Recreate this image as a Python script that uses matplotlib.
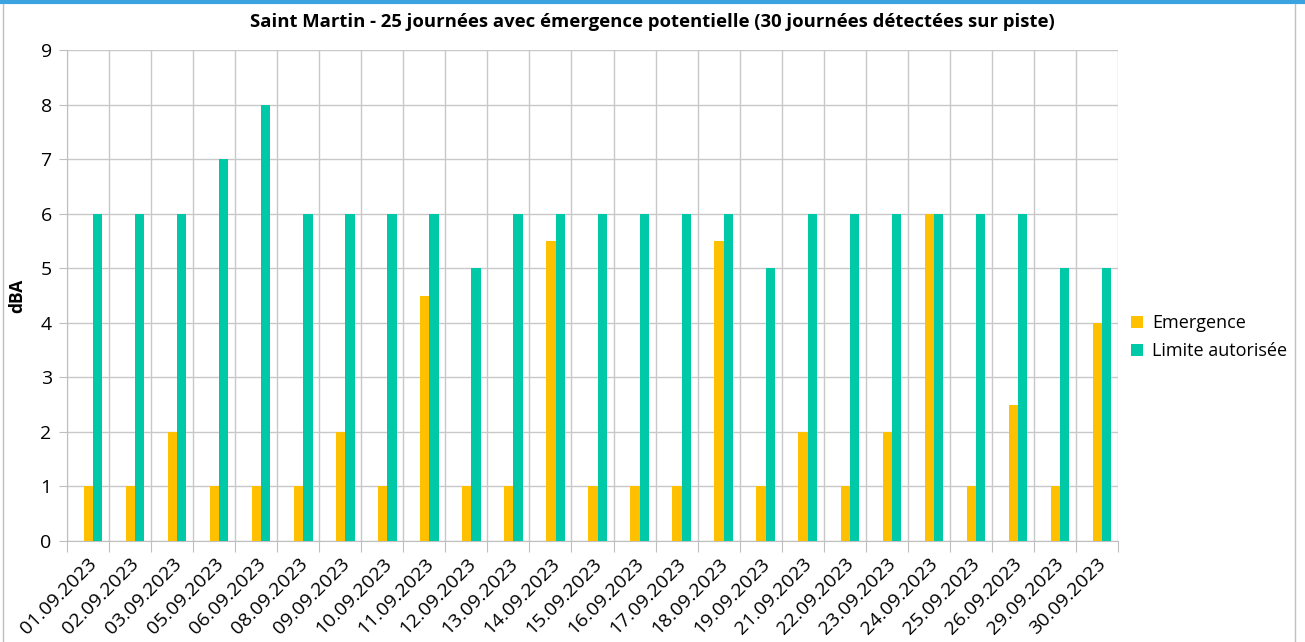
import matplotlib
matplotlib.use("Agg")
import matplotlib.pyplot as plt
import numpy as np
from matplotlib.lines import Line2D

# Données
dates = ["01.09.2023", "02.09.2023", "03.09.2023", "05.09.2023", "06.09.2023",
         "08.09.2023", "09.09.2023", "10.09.2023", "11.09.2023", "12.09.2023",
         "13.09.2023", "14.09.2023", "15.09.2023", "16.09.2023", "17.09.2023",
         "18.09.2023", "19.09.2023", "21.09.2023", "22.09.2023", "23.09.2023",
         "24.09.2023", "25.09.2023", "26.09.2023", "29.09.2023", "30.09.2023"]
emergence = [1, 1, 2, 1, 1, 1, 2, 1, 4.5, 1, 1, 5.5, 1, 1, 1, 5.5, 1, 2, 1, 2,
             6, 1, 2.5, 1, 4]
limite = [6, 6, 6, 7, 8, 6, 6, 6, 6, 5, 6, 6, 6, 6, 6, 6, 5, 6, 6, 6, 6, 6, 6, 5, 5]

plt.rcParams['font.family'] = ['Open Sans', 'DejaVu Sans']

fig = plt.figure(figsize=(13.05, 6.42), dpi=100)
ax = fig.add_axes([67 / 1305, 1 - 541 / 642, (1118 - 67) / 1305, (541 - 50) / 642])

x = np.arange(len(dates))
w = 0.22
decal = 0.12  # les barres sont légèrement décalées à droite dans l'original
ax.bar(x + decal - w / 2, emergence, width=w, color='#FFC000', label='Emergence', zorder=3)
ax.bar(x + decal + w / 2, limite, width=w, color='#00C9A7', label='Limite autorisée', zorder=3)

ax.set_xlim(-0.5, len(dates) - 0.5)
ax.set_ylim(0, 9)
ax.set_yticks(range(0, 10))
ax.tick_params(axis='y', length=6, color='#BFBFBF', labelsize=14, pad=5)

# grille verticale aux limites de catégories
ax.set_xticks(np.arange(len(dates) + 1) - 0.5, minor=False)
ax.set_xticklabels([])
ax.tick_params(axis='x', which='major', length=8, color='#BFBFBF')
ax.set_xticks(x, minor=True)
ax.set_xticklabels(dates, minor=True, rotation=45, ha='right', rotation_mode='anchor',
                   fontsize=14)
ax.tick_params(axis='x', which='minor', length=0, pad=10)

ax.grid(True, which='major', color='#C8C8C8', linewidth=1, zorder=0)
for s in ['top', 'right']:
    ax.spines[s].set_visible(False)
ax.spines['left'].set_color('#BFBFBF')
ax.spines['bottom'].set_color('#BFBFBF')

ax.set_ylabel('dBA', fontsize=12.5, fontweight='bold', labelpad=10)
fig.text(0.5, 1 - 22 / 642, "Saint Martin - 25 journées avec émergence potentielle (30 journées détectées sur piste)",
         ha='center', va='center', fontsize=13.3, fontweight='bold')

ax.legend(loc='center left', bbox_to_anchor=(1.012, 0.415), frameon=False, fontsize=13,
          borderaxespad=0, borderpad=0,
          handlelength=0.7, handleheight=0.7, handletextpad=0.5, labelspacing=0.55)

# cadre du graphique
fig.add_artist(Line2D([0, 1], [1 - 2 / 642, 1 - 2 / 642], color='#3BA3E0', linewidth=3))
fig.add_artist(Line2D([3 / 1305, 3 / 1305], [0, 1 - 4 / 642], color='#BFBFBF', linewidth=1))
fig.add_artist(Line2D([1295 / 1305, 1295 / 1305], [0, 1 - 4 / 642], color='#BFBFBF', linewidth=1))

fig.savefig('out.png', dpi=100)
